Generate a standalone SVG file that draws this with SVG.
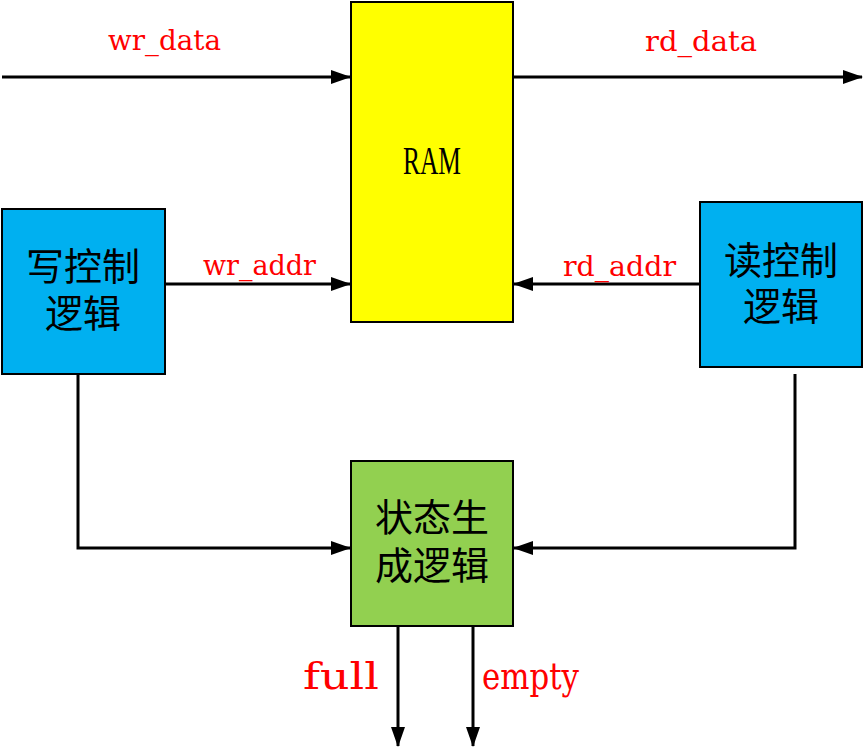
<svg xmlns="http://www.w3.org/2000/svg" width="864" height="749" viewBox="0 0 864 749">
<defs>
<marker id="arr" markerWidth="20" markerHeight="14" refX="19" refY="7" orient="auto" markerUnits="userSpaceOnUse">
<path d="M0,0 L20,7 L0,14 Z" fill="#000"/>
</marker>
<style>
.box{stroke:#000;stroke-width:2}
.cn{font-family:"Noto Sans CJK SC","Noto Sans CJK JP",sans-serif;font-size:38px;fill:#000;text-anchor:middle}
.lbl{font-family:"DejaVu Serif","Liberation Serif",serif;font-size:28px;fill:#f00}
.big{font-family:"DejaVu Serif","Liberation Serif",serif;font-size:38px;fill:#f00}
.wire{stroke:#000;stroke-width:3;fill:none}
</style>
</defs>
<rect width="864" height="749" fill="#fff"/>
<g id="connectors">
<line class="wire" x1="2" y1="77" x2="350" y2="77" marker-end="url(#arr)"/>
<line class="wire" x1="513" y1="77" x2="862" y2="77" marker-end="url(#arr)"/>
<line class="wire" x1="165" y1="284" x2="350" y2="284" marker-end="url(#arr)"/>
<line class="wire" x1="700" y1="284" x2="514" y2="284" marker-end="url(#arr)"/>
<polyline class="wire" points="78,374 78,548 350,548" marker-end="url(#arr)"/>
<polyline class="wire" points="795,374 795,548 514,548" marker-end="url(#arr)"/>
<line class="wire" x1="398" y1="626" x2="398" y2="746" marker-end="url(#arr)"/>
<line class="wire" x1="473" y1="626" x2="473" y2="746" marker-end="url(#arr)"/>
<text class="lbl" x="108" y="50" textLength="113" lengthAdjust="spacingAndGlyphs">wr_data</text>
<text class="lbl" x="645" y="51" textLength="112" lengthAdjust="spacingAndGlyphs">rd_data</text>
<text class="lbl" x="203" y="275" textLength="113" lengthAdjust="spacingAndGlyphs">wr_addr</text>
<text class="lbl" x="563" y="276" textLength="113" lengthAdjust="spacingAndGlyphs">rd_addr</text>
<text class="big" x="303" y="689" textLength="76" lengthAdjust="spacingAndGlyphs">full</text>
<text class="big" x="482" y="689" textLength="97" lengthAdjust="spacingAndGlyphs">empty</text>
</g>
<g id="ram">
<rect class="box" x="351" y="2" width="162" height="320" fill="#ffff00"/>
<text x="403" y="174" font-family="Liberation Serif,serif" font-size="40" fill="#000" textLength="58" lengthAdjust="spacingAndGlyphs">RAM</text>
</g>
<g id="write-ctrl">
<rect class="box" x="2" y="209" width="163" height="165" fill="#00b0f0"/>
<text class="cn" x="83" y="280">写控制</text>
<text class="cn" x="83" y="327">逻辑</text>
</g>
<g id="read-ctrl">
<rect class="box" x="700" y="202" width="162" height="165" fill="#00b0f0"/>
<text class="cn" x="781" y="274">读控制</text>
<text class="cn" x="781" y="320">逻辑</text>
</g>
<g id="status">
<rect class="box" x="351" y="461" width="162" height="165" fill="#92d050"/>
<text class="cn" x="432" y="531">状态生</text>
<text class="cn" x="432" y="579">成逻辑</text>
</g>
</svg>
